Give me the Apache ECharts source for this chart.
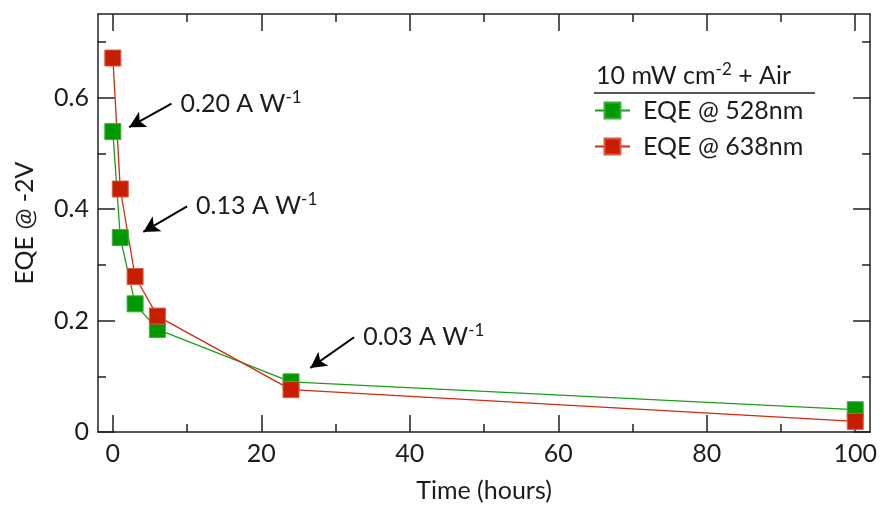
<!DOCTYPE html>
<html>
<head>
<meta charset="utf-8">
<script src="https://cdn.jsdelivr.net/npm/echarts@6/dist/echarts.min.js"></script>
<style>
  html, body { margin: 0; padding: 0; background: #fff; }
  #main { width: 880px; height: 508px; }
</style>
</head>
<body>
<div id="main"></div>
<script>
// time after exposure (hours)
var hours = [0, 1, 3, 6, 24, 100];
// EQE at -2V
var eqe528 = [0.539, 0.349, 0.230, 0.184, 0.090, 0.040];
var eqe638 = [0.671, 0.436, 0.279, 0.208, 0.076, 0.019];

var xTicks = [0, 20, 40, 60, 80, 100];
var xMinorTicks = [10, 30, 50, 70, 90];
var yTicks = [0, 0.2, 0.4, 0.6];
var yMinorTicks = [0.1, 0.3, 0.5, 0.7];

var seriesNames = ['EQE @ 528nm', 'EQE @ 638nm'];
var legendTitle = ['10 mW cm', '-2', ' + Air'];

// responsivity notes: label, arrow tail, arrow tip (data units)
var noteLabels = ['0.20 A W', '0.13 A W', '0.03 A W'];
var noteTails = [[7.9, 0.589], [10.0, 0.405], [32.5, 0.170]];
var noteTips = [[2.2, 0.547], [4.1, 0.359], [26.6, 0.115]];

var FONT = 'Lato';
var INK = '#1c1c1c';
var AXIS = '#222';

var chart = echarts.init(document.getElementById('main'));

function xAxisDef(pos, minor, labels) {
  return {
    type: 'value', position: pos, min: -2, max: 102,
    axisLine: { show: !minor, onZero: false, lineStyle: { color: AXIS, width: 1.5 } },
    axisTick: { show: true, inside: true, length: minor ? 8 : 17,
      customValues: minor ? xMinorTicks : xTicks,
      lineStyle: { color: AXIS, width: 1.5 } },
    axisLabel: { show: labels, customValues: xTicks, margin: 9,
      fontFamily: FONT, fontSize: 25, color: INK },
    splitLine: { show: false },
    name: labels ? 'Time (hours)' : '', nameLocation: 'middle', nameGap: 46,
    nameTextStyle: { fontFamily: FONT, fontSize: 25, color: INK }
  };
}

function yAxisDef(pos, minor, labels) {
  return {
    type: 'value', position: pos, min: 0, max: 0.75,
    axisLine: { show: !minor, onZero: false, lineStyle: { color: AXIS, width: 1.5 } },
    axisTick: { show: true, inside: true, length: minor ? 8 : 17,
      customValues: minor ? yMinorTicks : yTicks,
      lineStyle: { color: AXIS, width: 1.5 } },
    axisLabel: { show: labels, customValues: yTicks, margin: 9,
      fontFamily: FONT, fontSize: 25, color: INK,
      formatter: function (v) { return v === 0 ? '0' : v.toFixed(1); } },
    splitLine: { show: false },
    name: labels ? 'EQE @ -2V' : '', nameLocation: 'middle', nameGap: 61,
    nameTextStyle: { fontFamily: FONT, fontSize: 25, color: INK }
  };
}

var arrows = noteTails.map(function (t, i) {
  return [{ coord: t }, { coord: noteTips[i] }];
});

chart.setOption({
  animation: false,
  backgroundColor: '#fff',
  grid: { left: 98, top: 14, width: 773, height: 420 },
  xAxis: [
    xAxisDef('bottom', false, true),
    xAxisDef('bottom', true, false),
    xAxisDef('top', false, false),
    xAxisDef('top', true, false)
  ],
  yAxis: [
    yAxisDef('left', false, true),
    yAxisDef('left', true, false),
    yAxisDef('right', false, false),
    yAxisDef('right', true, false)
  ],
  legend: {
    data: seriesNames,
    orient: 'vertical', left: 594, top: 98, padding: 0,
    itemWidth: 35, itemHeight: 20, itemGap: 11,
    textStyle: { fontFamily: FONT, fontSize: 25, color: INK, padding: [0, 0, 0, 8] }
  },
  series: [
    {
      name: seriesNames[0], type: 'line',
      data: hours.map(function (h, i) { return [h, eqe528[i]]; }),
      symbol: 'rect', symbolSize: 16,
      itemStyle: { color: '#009a00', borderColor: '#3cb03c', borderWidth: 1 },
      lineStyle: { color: '#1a9f1a', width: 1.3 },
      markLine: {
        silent: true, symbol: ['none', 'arrow'], symbolSize: [13, 16],
        label: { show: false },
        lineStyle: { color: '#000', width: 2, type: 'solid' },
        data: arrows
      }
    },
    {
      name: seriesNames[1], type: 'line',
      data: hours.map(function (h, i) { return [h, eqe638[i]]; }),
      symbol: 'rect', symbolSize: 16,
      itemStyle: { color: '#c81e00', borderColor: '#dc5a44', borderWidth: 1 },
      lineStyle: { color: '#d02a10', width: 1.3 }
    }
  ]
});

// text for the notes, placed just right of each arrow tail
var graphics = noteLabels.map(function (s, i) {
  var p = chart.convertToPixel({ gridIndex: 0 }, noteTails[i]);
  return {
    type: 'text', x: p[0] + 9, y: p[1],
    style: {
      text: '{m|' + s + '}{s|-1}',
      verticalAlign: 'middle',
      rich: {
        m: { fontFamily: FONT, fontSize: 25, fill: INK, lineHeight: 30 },
        s: { fontFamily: FONT, fontSize: 17, fill: INK, verticalAlign: 'top' }
      }
    }
  };
});
graphics.push({
  type: 'text', x: 596, y: 76,
  style: {
    text: '{m|' + legendTitle[0] + '}{s|' + legendTitle[1] + '}{m|' + legendTitle[2] + '}',
    verticalAlign: 'middle',
    rich: {
      m: { fontFamily: FONT, fontSize: 25, fill: INK, lineHeight: 30 },
      s: { fontFamily: FONT, fontSize: 17, fill: INK, verticalAlign: 'top' }
    }
  }
});
graphics.push({
  type: 'line', shape: { x1: 594, y1: 93, x2: 815, y2: 93 },
  style: { stroke: INK, lineWidth: 1.5 }
});
chart.setOption({ graphic: graphics });
</script>
</body>
</html>
